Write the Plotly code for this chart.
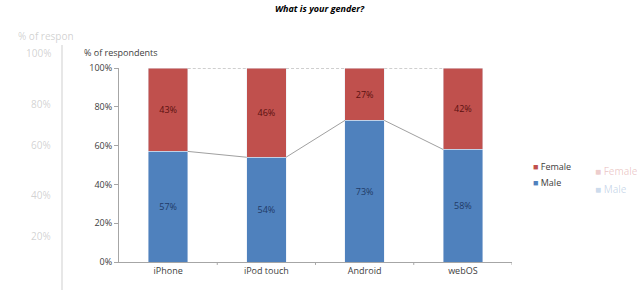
import plotly.graph_objects as go

categories = ["iPhone", "iPod touch", "Android", "webOS"]
male = [57, 54, 73, 58]
female = [43, 46, 27, 42]
yticks = [0, 20, 40, 60, 80, 100]
ytick_labels = ["0%", "20%", "40%", "60%", "80%", "100%"]
series_names = ["Female", "Male"]

BLUE = "#4F81BD"
RED = "#C0504D"
FONT = "Open Sans, Liberation Sans, sans-serif"
BW = 0.4
xs = list(range(len(categories)))

fig = go.Figure()
fig.add_bar(x=xs, y=male, name="Male", marker_color=BLUE, width=BW, showlegend=False,
            text=[f"{v}%" for v in male], textposition="inside", insidetextanchor="middle",
            textfont=dict(color="#1F3A66", size=9, family=FONT))
fig.add_bar(x=xs, y=female, name="Female", marker_color=RED, width=BW, showlegend=False,
            text=[f"{v}%" for v in female], textposition="inside", insidetextanchor="middle",
            textfont=dict(color="#5A1010", size=9, family=FONT))

# series lines between stacked bars
for i in range(len(categories) - 1):
    fig.add_scatter(x=[i + BW / 2, i + 1 - BW / 2], y=[male[i], male[i + 1]], mode="lines",
                    line=dict(color="#A0A0A0", width=1), showlegend=False, hoverinfo="skip")
    fig.add_scatter(x=[i + BW / 2, i + 1 - BW / 2],
                    y=[male[i] + female[i], male[i + 1] + female[i + 1]], mode="lines",
                    line=dict(color="#A0A0A0", width=1, dash="3px,2px"),
                    showlegend=False, hoverinfo="skip")

fig.update_layout(
    barmode="stack", width=640, height=290,
    margin=dict(l=119, r=128, t=68, b=28),
    paper_bgcolor="white", plot_bgcolor="white",
    font=dict(family=FONT, size=9, color="#404040"),
    showlegend=False,
)
fig.update_xaxes(range=[-0.5, 3.5], tickvals=xs, ticktext=categories, showgrid=False,
                 showline=True, linecolor="#A6A6A6", linewidth=1, ticks="", zeroline=False,
                 tickfont=dict(size=9, color="#404040"))
for b in [0.5, 1.5, 2.5, 3.5]:
    fig.add_shape(type="line", xref="x", yref="paper", x0=b, x1=b, y0=0, y1=-0.015,
                  line=dict(color="#A6A6A6", width=1))
fig.update_yaxes(range=[0, 100], tickvals=yticks, ticktext=ytick_labels, showgrid=False,
                 showline=True, linecolor="#A6A6A6", linewidth=1, ticks="outside",
                 ticklen=4, tickcolor="#A6A6A6", zeroline=False,
                 tickfont=dict(size=9, color="#404040"))

# legend (Excel style: small swatch right next to text)
for name, col, py in [("Female", RED, 166), ("Male", BLUE, 182)]:
    fig.add_annotation(text=f"<span style='color:{col}'>■</span> {name}", xref="paper", yref="paper",
                       x=(531 - 119) / 393, y=(262 - py) / 194, showarrow=False, xanchor="left",
                       yanchor="middle", font=dict(size=9, color="#404040"))

fig.add_annotation(text="<b><i>What is your gender?</i></b>", xref="paper", yref="paper",
                   x=(320 - 119) / 393, y=1 + (68 - 9) / 194, showarrow=False,
                   font=dict(size=9, color="#000000"), xanchor="center", yanchor="middle")
fig.add_annotation(text="% of respondents", xref="paper", yref="paper",
                   x=(82 - 119) / 393, y=1 + (68 - 52) / 194, showarrow=False,
                   font=dict(size=9, color="#404040"), xanchor="left", yanchor="middle")

# faint blurred background (left/right edges)
faint = "rgba(140,140,140,0.4)"
fig.add_annotation(text="% of respon", xref="paper", yref="paper", x=(16 - 119) / 393,
                   y=(262 - 27) / 194, showarrow=False, xanchor="left",
                   font=dict(size=10, color=faint))
for txt, py in [("100%", 44), ("80%", 95), ("60%", 145), ("40%", 195), ("20%", 245)]:
    fig.add_annotation(text=txt, xref="paper", yref="paper", x=(53 - 119) / 393,
                       y=(262 - py) / 194, showarrow=False, xanchor="right",
                       font=dict(size=10, color=faint))
fig.add_shape(type="line", xref="paper", yref="paper", x0=(62 - 119) / 393, x1=(62 - 119) / 393,
              y0=(262 - 290) / 194, y1=(262 - 45) / 194,
              line=dict(color="rgba(160,160,160,0.25)", width=2))
fig.add_annotation(text="■ Female", xref="paper", yref="paper", x=(593 - 119) / 393,
                   y=(262 - 171) / 194, showarrow=False, xanchor="left",
                   font=dict(size=10, color="rgba(192,80,77,0.3)"))
fig.add_annotation(text="■ Male", xref="paper", yref="paper", x=(593 - 119) / 393,
                   y=(262 - 189) / 194, showarrow=False, xanchor="left",
                   font=dict(size=10, color="rgba(79,129,189,0.3)"))

fig.write_html("out.html")
